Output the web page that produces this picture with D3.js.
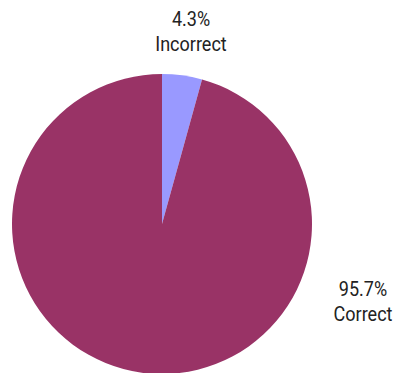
<!DOCTYPE html>
<html><head><meta charset="utf-8">
<script src="https://cdn.jsdelivr.net/npm/d3@7"></script>
<style>body{margin:0;background:#fff}</style>
</head><body>
<svg id="c" width="394" height="373"></svg>
<script>
const categories = ["Incorrect", "Correct"];
const values = [4.3, 95.7];
const labels = ["4.3%", "95.7%"];
const colors = ["#9999ff", "#993366"];

const svg = d3.select("#c");
const cx = 162, cy = 224, r = 150;
const g = svg.append("g").attr("transform", `translate(${cx},${cy})`);
const pie = d3.pie().sort(null).value(d => d)(values);
const arc = d3.arc().innerRadius(0).outerRadius(r);
g.selectAll("path").data(pie).enter().append("path")
  .attr("d", arc).attr("fill", (d, i) => colors[i]);

const font = "Roboto, sans-serif";
const pos = [[191, 26], [363, 296]];
pie.forEach((d, i) => {
  const t = svg.append("g").attr("transform", `translate(${pos[i][0]},${pos[i][1]}) scale(0.88,1)`)
    .append("text").attr("text-anchor", "middle")
    .attr("font-family", font).attr("font-size", 20.5).attr("fill", "#222");
  t.append("tspan").attr("x", 0).attr("y", 0).text(labels[i]);
  t.append("tspan").attr("x", 0).attr("y", 25).text(categories[i]);
});
</script>
</body></html>
